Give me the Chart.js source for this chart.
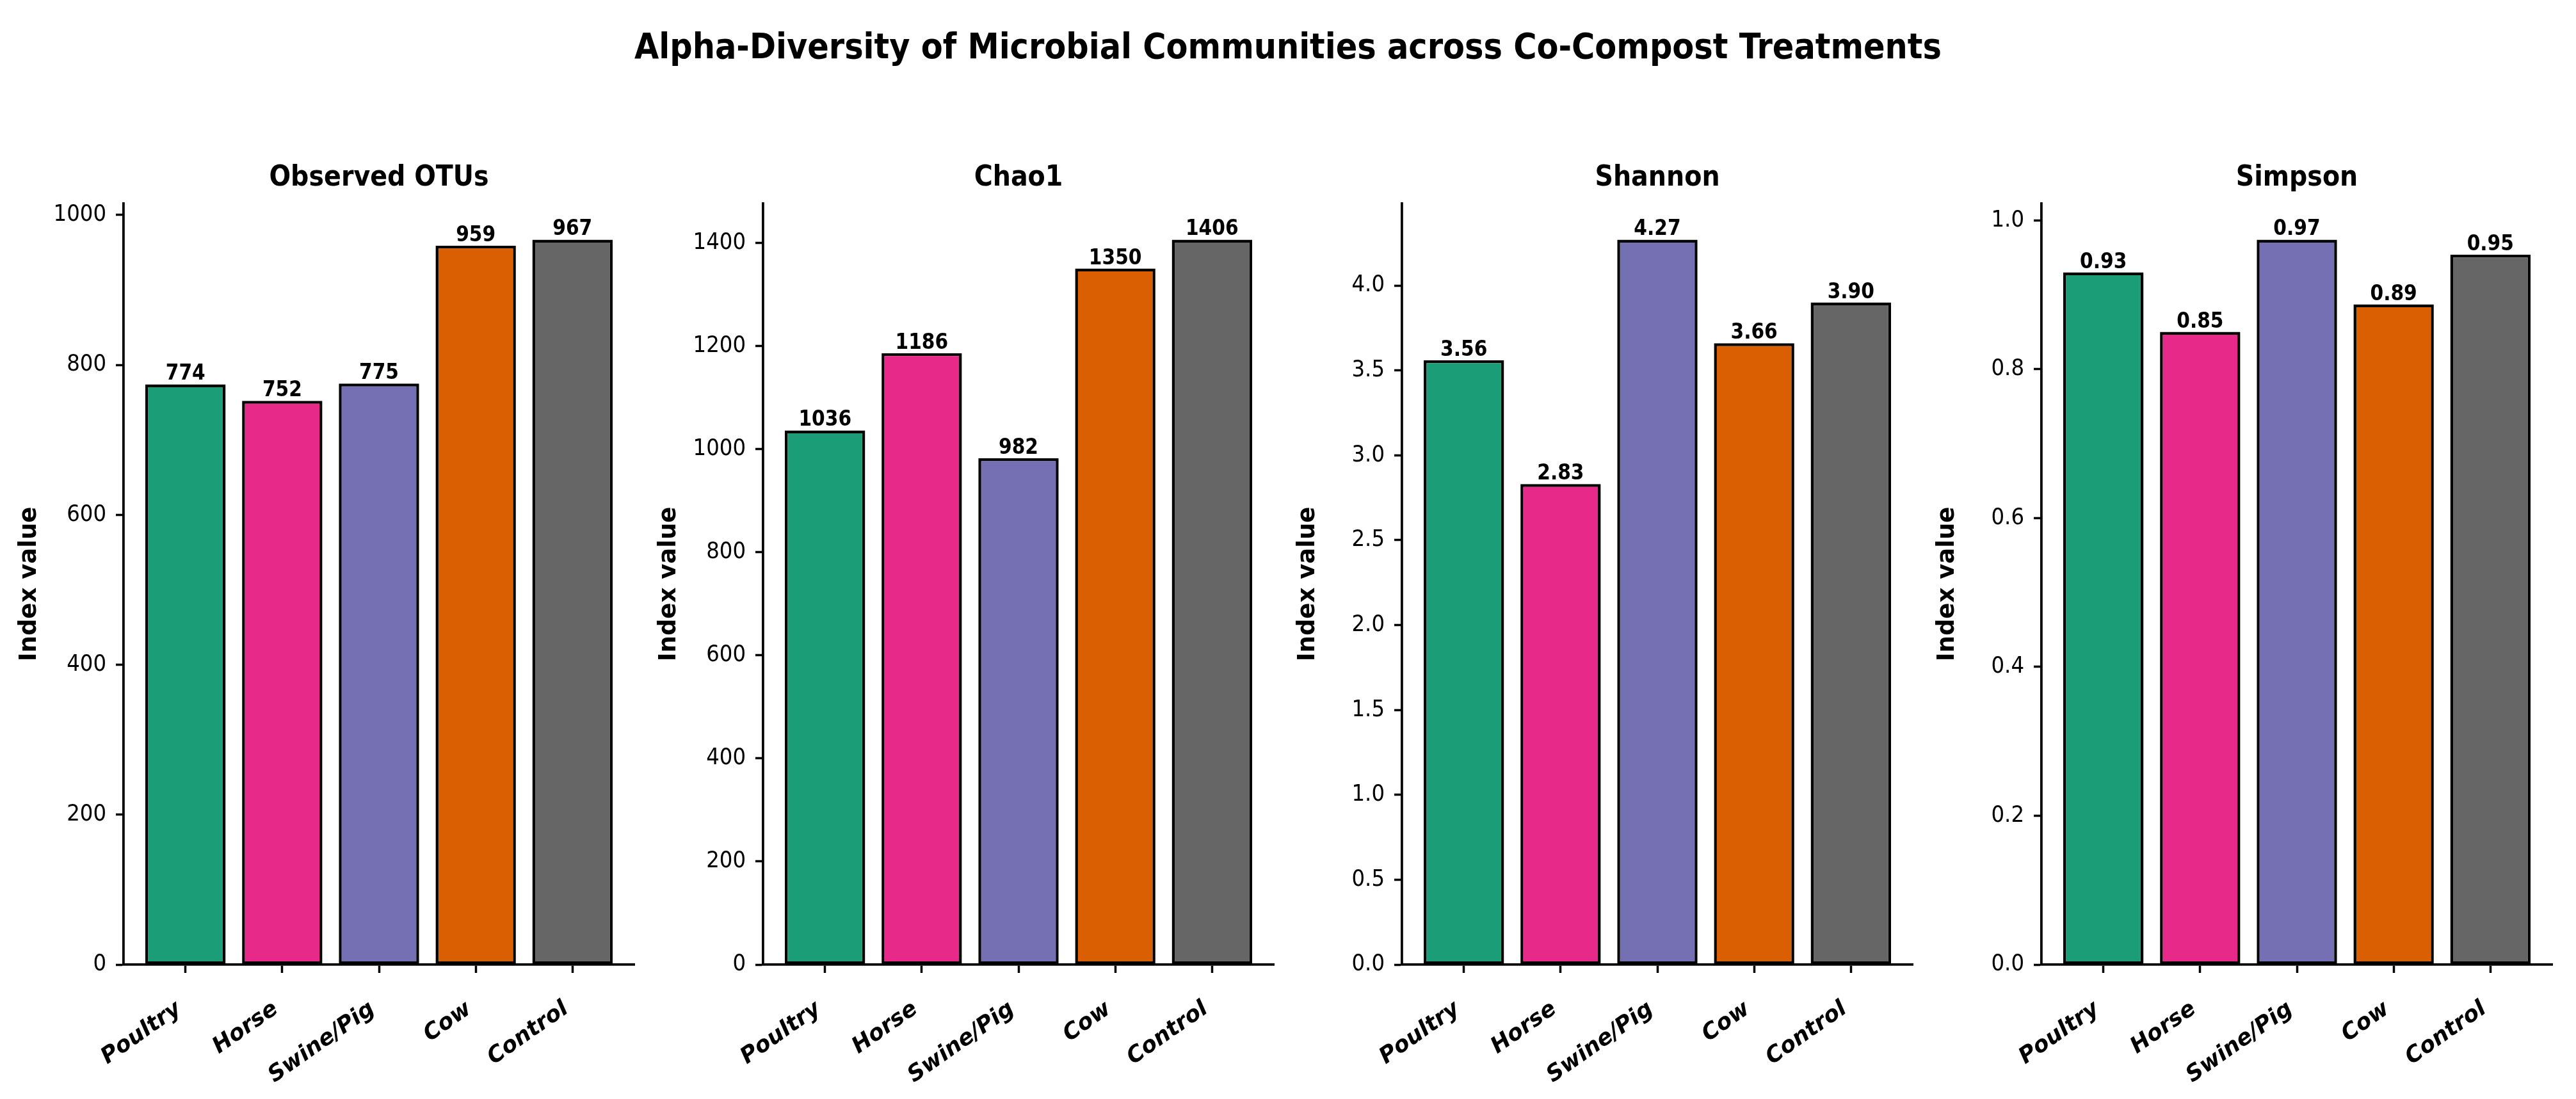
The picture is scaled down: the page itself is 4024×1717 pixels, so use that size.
<!DOCTYPE html>
<html>
<head>
<meta charset="utf-8">
<script src="https://cdn.jsdelivr.net/npm/chart.js@4.4.1/dist/chart.umd.min.js"></script>
<style>
  html, body { margin: 0; padding: 0; background: #ffffff; }
  #fig { position: relative; width: 4024px; height: 1717px; background: #ffffff; overflow: hidden; }
  #suptitle {
    position: absolute; left: 0; top: 45px; width: 4024px;
    text-align: center; white-space: nowrap; color: #000;
    font-family: "DejaVu Sans Condensed", "DejaVu Sans", sans-serif;
    font-weight: bold; font-size: 55px; line-height: 55px;
  }
  canvas { position: absolute; top: 0; }
</style>
</head>
<body>
<div id="fig">
  <div id="suptitle">Alpha-Diversity of Microbial Communities across Co-Compost Treatments</div>
  <canvas id="c0" width="1000" height="1717" style="left:0px"></canvas>
  <canvas id="c1" width="1000" height="1717" style="left:999px"></canvas>
  <canvas id="c2" width="1000" height="1717" style="left:1997px"></canvas>
  <canvas id="c3" width="1028" height="1717" style="left:2996px"></canvas>
</div>
<script>
// ---- data ----
const categories = ['Poultry', 'Horse', 'Swine/Pig', 'Cow', 'Control'];
const panelTitles = ['Observed OTUs', 'Chao1', 'Shannon', 'Simpson'];
const observedOTUs = [774, 752, 775, 959, 967];
const chao1 = [1036, 1186, 982, 1350, 1406];
const shannon = [3.56, 2.83, 4.27, 3.66, 3.90];
const simpson = [0.93, 0.85, 0.974, 0.887, 0.954];
const observedTicks = [0, 200, 400, 600, 800, 1000];
const chao1Ticks = [0, 200, 400, 600, 800, 1000, 1200, 1400];
const shannonTicks = [0, 0.5, 1.0, 1.5, 2.0, 2.5, 3.0, 3.5, 4.0];
const simpsonTicks = [0, 0.2, 0.4, 0.6, 0.8, 1.0];
const yAxisLabel = 'Index value';

// ---- style ----
const barColors = ['#1b9e77', '#e7298a', '#7570b3', '#d95f02', '#666666'];
const COND = '"DejaVu Sans Condensed", "DejaVu Sans", sans-serif';
const SANS = '"DejaVu Sans", sans-serif';

const valueLabelPlugin = {
  id: 'valueLabels',
  afterDatasetsDraw(chart, args, opts) {
    const ctx = chart.ctx;
    const meta = chart.getDatasetMeta(0);
    const ds = chart.data.datasets[0];
    ctx.save();
    ctx.font = 'bold 33px ' + COND;
    ctx.fillStyle = '#000';
    ctx.textAlign = 'center';
    ctx.textBaseline = 'alphabetic';
    meta.data.forEach((bar, i) => {
      const v = ds.data[i].y;
      ctx.fillText(v.toFixed(opts.decimals), bar.x, bar.y - 7);
    });
    ctx.restore();
  }
};

function makePanel(id, idx, values, tickVals, tickDecimals, labelDecimals) {
  const canvas = document.getElementById(id);
  const plotLeft = 193, plotWidth = 798;
  const rightPad = canvas.width - plotLeft - plotWidth;
  const ymax = Math.max(...values) * 1.05;
  return new Chart(canvas, {
    type: 'bar',
    data: {
      datasets: [{
        data: values.map((v, i) => ({ x: i, y: v })),
        backgroundColor: barColors,
        borderColor: '#000000',
        borderWidth: 4.5,
        borderSkipped: false,
        barPercentage: 0.83,
        categoryPercentage: 1.0
      }]
    },
    options: {
      responsive: false,
      devicePixelRatio: 1,
      animation: false,
      events: [],
      layout: { padding: { left: 0, right: rightPad, top: 0, bottom: 0 } },
      plugins: {
        legend: { display: false },
        tooltip: { enabled: false },
        title: {
          display: true,
          text: panelTitles[idx],
          color: '#000',
          fullSize: false,
          font: { family: COND, size: 44, weight: 'bold', lineHeight: 1.2 },
          padding: { top: 252, bottom: 13 }
        },
        valueLabels: { decimals: labelDecimals }
      },
      scales: {
        x: {
          type: 'linear',
          min: -0.64,
          max: 4.64,
          offset: false,
          grid: { display: true, drawOnChartArea: false, drawTicks: true, tickLength: 13, tickWidth: 3.5, tickColor: '#000', offset: false },
          border: { display: true, color: '#000', width: 3.8 },
          ticks: {
            autoSkip: false,
            minRotation: 35,
            maxRotation: 35,
            padding: 36,
            labelOffset: -10,
            color: '#000',
            font: { family: SANS, size: 35, weight: 'bold', style: 'italic' },
            callback: (v) => (categories[v] !== undefined ? categories[v] : '')
          },
          afterBuildTicks: (s) => { s.ticks = categories.map((c, i) => ({ value: i })); },
          afterFit: (s) => { s.height = 210; s.paddingLeft = 0; s.paddingRight = 0; }
        },
        y: {
          type: 'linear',
          min: 0,
          max: ymax,
          grid: { display: true, drawOnChartArea: false, drawTicks: true, tickLength: 12, tickWidth: 3.5, tickColor: '#000' },
          border: { display: true, color: '#000', width: 3.8 },
          ticks: {
            color: '#000',
            padding: 15,
            font: { family: COND, size: 36 },
            callback: (v) => Number(v).toFixed(tickDecimals)
          },
          afterBuildTicks: (s) => { s.ticks = tickVals.map((v) => ({ value: v })); },
          title: {
            display: true,
            text: yAxisLabel,
            color: '#000',
            font: { family: SANS, size: 37, weight: 'bold', lineHeight: 1.2 },
            padding: { top: 24, bottom: 0 }
          },
          afterFit: (s) => { s.width = plotLeft; s.paddingTop = 0; s.paddingBottom = 0; }
        }
      }
    },
    plugins: [valueLabelPlugin]
  });
}

makePanel('c0', 0, observedOTUs, observedTicks, 0, 0);
makePanel('c1', 1, chao1, chao1Ticks, 0, 0);
makePanel('c2', 2, shannon, shannonTicks, 1, 2);
makePanel('c3', 3, simpson, simpsonTicks, 1, 2);
</script>
</body>
</html>
